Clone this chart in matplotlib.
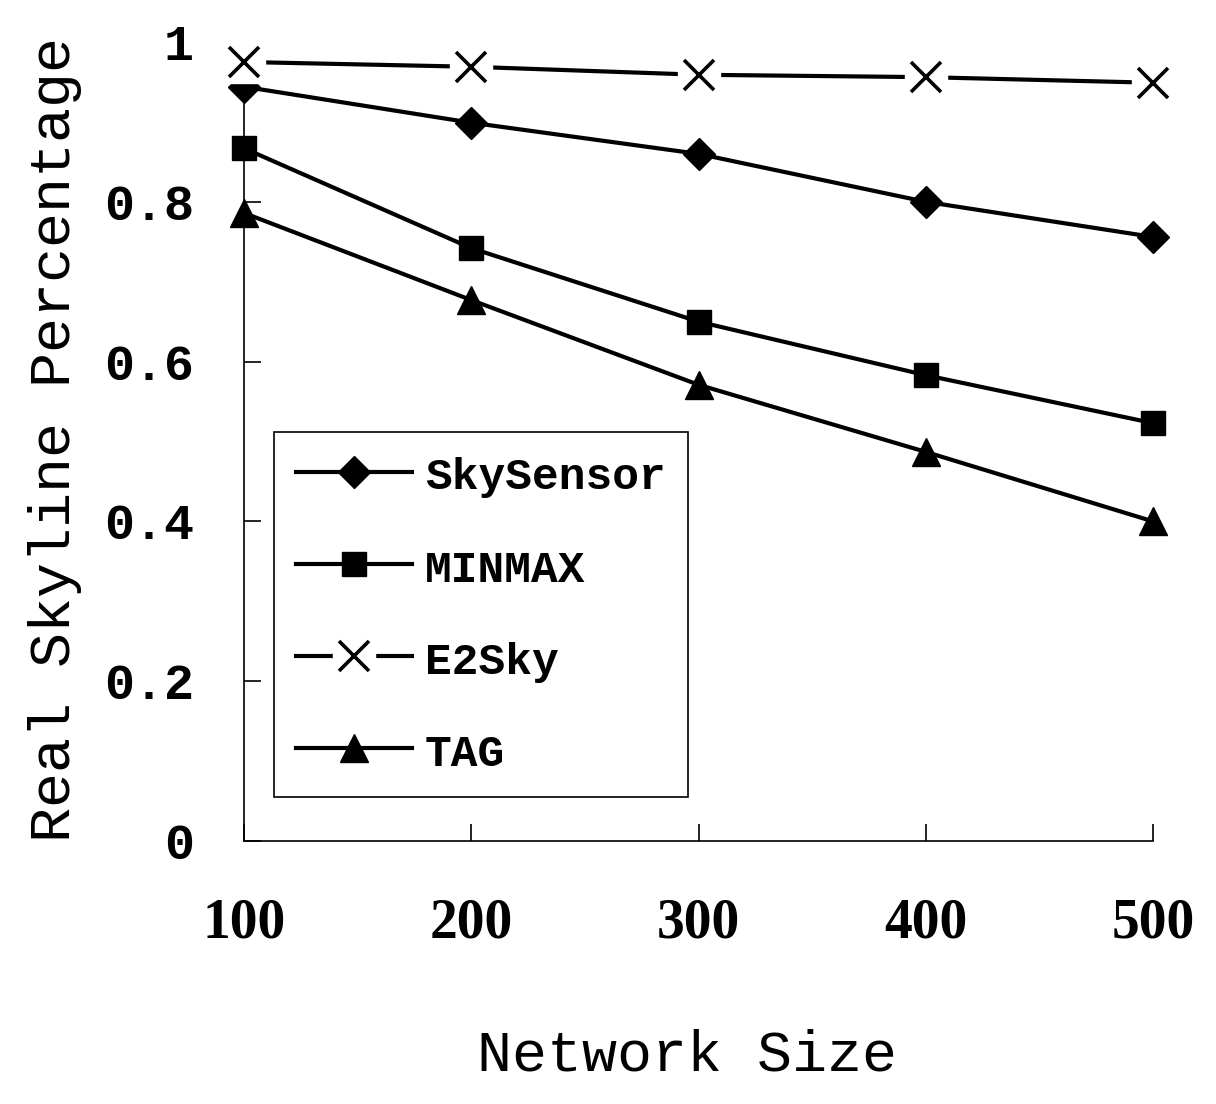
import matplotlib
matplotlib.use('Agg')
import matplotlib.pyplot as plt

# data
network_size = [100, 200, 300, 400, 500]
skysensor = [0.944, 0.899, 0.860, 0.800, 0.756]
minmax = [0.867, 0.742, 0.650, 0.583, 0.523]
e2sky = [0.975, 0.969, 0.959, 0.956, 0.949]
tag = [0.786, 0.677, 0.571, 0.487, 0.400]
y_ticks = [0, 0.2, 0.4, 0.6, 0.8, 1]
y_tick_labels = ['0', '0.2', '0.4', '0.6', '0.8', '1']

plt.rcParams['font.family'] = ['Liberation Mono', 'DejaVu Sans Mono']

fig = plt.figure(figsize=(12.16, 11.04), dpi=100)
ax = fig.add_axes([244 / 1216, 1 - 841 / 1104, 909 / 1216, 799 / 1104])

lw = 3.0
h_sky, = ax.plot(network_size, skysensor, color='black', lw=lw, marker='D',
                 ms=16, clip_on=False, zorder=3)
h_min, = ax.plot(network_size, minmax, color='black', lw=lw, marker='s',
                 ms=17, clip_on=False, zorder=3)
h_tag, = ax.plot(network_size, tag, color='black', lw=lw, marker='^',
                 ms=20, clip_on=False, zorder=3)

# E2Sky: line with a white box behind each cross, so the line stops short
h_e2_line, = ax.plot(network_size, e2sky, color='black', lw=lw,
                     clip_on=False, zorder=4)
h_e2_box, = ax.plot(network_size, e2sky, ls='none', marker='s', ms=30,
                    color='white', mec='white', clip_on=False, zorder=5)
h_e2_x, = ax.plot(network_size, e2sky, ls='none', marker='x', ms=21,
                  mew=2.6, color='black', clip_on=False, zorder=6)

ax.set_xlim(100, 500)
ax.set_ylim(0, 1)
ax.set_xticks(network_size)
ax.set_yticks(y_ticks)
ax.set_yticklabels(y_tick_labels)

for side in ['top', 'right']:
    ax.spines[side].set_visible(False)
for side in ['left', 'bottom']:
    ax.spines[side].set_linewidth(1.2)

ax.tick_params(axis='both', direction='in', length=12.5, width=1.2)
ax.tick_params(axis='x', pad=41, labelsize=40)
ax.tick_params(axis='y', pad=36, labelsize=36)
for lab in ax.get_xticklabels():
    lab.set_fontfamily('Liberation Serif')
    lab.set_fontweight('bold')
for lab in ax.get_yticklabels():
    lab.set_fontweight('bold')

ax.set_xlabel('Network Size', fontsize=42, va='center')
ax.xaxis.set_label_coords(0.487, -0.268)
ax.set_ylabel('Real Skyline Percentage', fontsize=42, va='center')
ax.yaxis.set_label_coords(-0.208, 0.502)

handles = [h_sky, h_min, (h_e2_line, h_e2_box, h_e2_x), h_tag]
labels = ['SkySensor', 'MINMAX', 'E2Sky', 'TAG']
leg = ax.legend(handles, labels, loc='lower left',
                bbox_to_anchor=(0.033, 0.055), borderaxespad=0,
                prop={'weight': 'bold', 'size': 32},
                handlelength=2.6, handleheight=1.0, handletextpad=0.3,
                labelspacing=1.08, borderpad=0.5, fancybox=False,
                framealpha=1, edgecolor='black')
leg.get_frame().set_linewidth(1.2)

fig.savefig('out.png', dpi=100)
